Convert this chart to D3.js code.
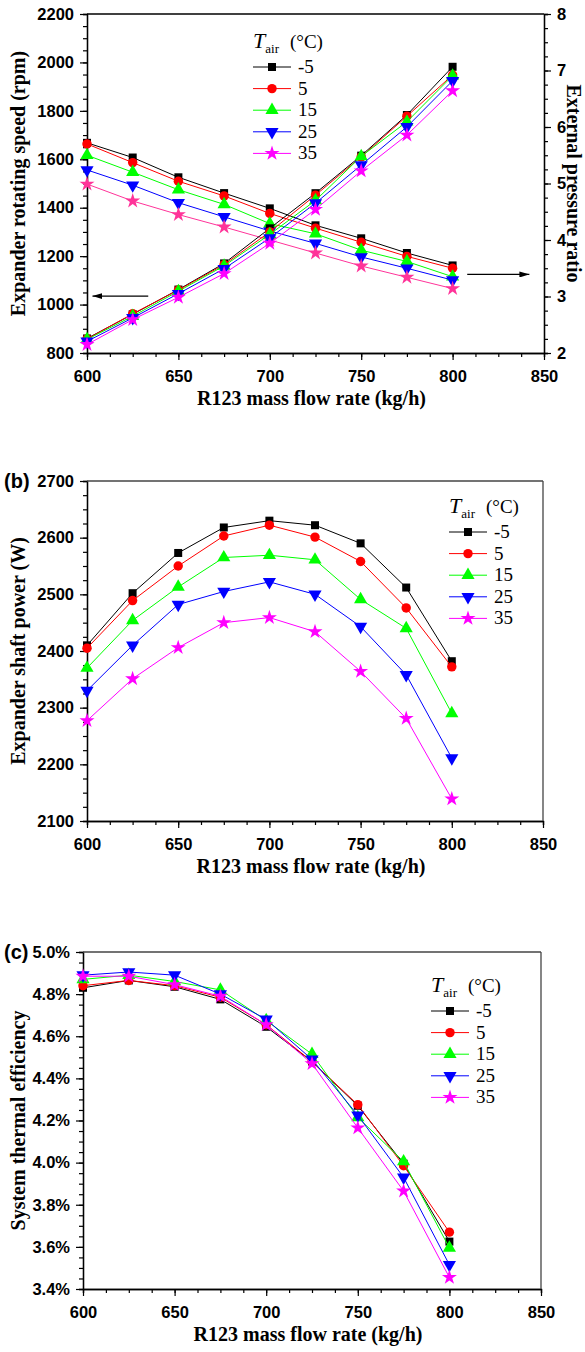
<!DOCTYPE html>
<html>
<head>
<meta charset="utf-8">
<script src="https://cdn.jsdelivr.net/npm/d3@7"></script>
<style>
  body { margin: 0; background: #fff; }
  .tick text { font-family: "Liberation Sans", Arial, sans-serif; font-weight: bold; font-size: 16.5px; fill: #000; }
  .title { font-family: "Liberation Serif", "Times New Roman", serif; font-weight: bold; font-size: 20px; fill: #000; }
  .leg { font-family: "Liberation Serif", "Times New Roman", serif; font-size: 19px; fill: #000; }
  .lab { font-family: "Liberation Sans", Arial, sans-serif; font-weight: bold; font-size: 20px; fill: #000; }
</style>
</head>
<body>
<div id="chart"></div>
<script>
// mass flow rate (kg/h)
const flow = [600, 625, 650, 675, 700, 725, 750, 775, 800];
const tairLabels = ["-5", "5", "15", "25", "35"];
const colors = ["#000000", "#ff0000", "#00ff00", "#0000ff", "#ff00ff"];
const xTicks = [600, 650, 700, 750, 800, 850];

// (a) expander rotating speed (rpm), left axis
const speed = [
  [860, 960, 1062, 1170, 1315, 1460, 1615, 1783, 1982],
  [858, 962, 1060, 1165, 1300, 1452, 1610, 1778, 1948],
  [856, 952, 1055, 1160, 1290, 1430, 1612, 1755, 1945],
  [848, 945, 1045, 1148, 1275, 1419, 1576, 1734, 1924],
  [835, 938, 1030, 1128, 1253, 1393, 1552, 1700, 1883]
];
// (a) external pressure ratio, right axis
const pressure = [
  [5.72, 5.46, 5.11, 4.83, 4.56, 4.26, 4.03, 3.77, 3.55],
  [5.70, 5.37, 5.04, 4.78, 4.47, 4.21, 3.96, 3.71, 3.50],
  [5.50, 5.20, 4.89, 4.63, 4.29, 4.11, 3.82, 3.62, 3.35],
  [5.24, 4.97, 4.66, 4.41, 4.16, 3.94, 3.70, 3.50, 3.29],
  [4.99, 4.69, 4.45, 4.23, 4.00, 3.77, 3.54, 3.34, 3.14]
];
// (b) expander shaft power (W)
const power = [
  [2410, 2502, 2573, 2618, 2630, 2622, 2590, 2512, 2382],
  [2405, 2489, 2550, 2603, 2622, 2601, 2558, 2476, 2372],
  [2370, 2454, 2513, 2565, 2569, 2561, 2491, 2440, 2290],
  [2330, 2410, 2482, 2505, 2522, 2500, 2443, 2358, 2211],
  [2277, 2351, 2406, 2450, 2459, 2434, 2364, 2281, 2139]
];
// (c) system thermal efficiency (%)
const efficiency = [
  [4.83, 4.865, 4.835, 4.775, 4.645, 4.48, 4.27, 3.995, 3.625],
  [4.84, 4.865, 4.84, 4.785, 4.655, 4.48, 4.275, 3.985, 3.67],
  [4.87, 4.89, 4.86, 4.82, 4.675, 4.515, 4.215, 4.005, 3.595],
  [4.89, 4.905, 4.89, 4.80, 4.68, 4.49, 4.225, 3.93, 3.515],
  [4.885, 4.885, 4.845, 4.79, 4.655, 4.47, 4.165, 3.865, 3.455]
];

const W = 585, H = 1352;
const svg = d3.select("#chart").append("svg")
    .attr("width", W).attr("height", H);

const symbols = [
  {type: d3.symbolSquare, size: 64, rot: 0},
  {type: d3.symbolCircle, size: 70, rot: 0},
  {type: d3.symbolTriangle, size: 75, rot: 0},
  {type: d3.symbolTriangle, size: 75, rot: 180},
  {type: d3.symbolStar, size: 70, rot: 0}
];

function marker(g, i, x, y, color) {
  g.append("path")
    .attr("d", d3.symbol().type(symbols[i].type).size(symbols[i].size)())
    .attr("transform", "translate(" + x + "," + y + ") rotate(" + symbols[i].rot + ")")
    .attr("fill", color);
}

function minorTicks(scale, step) {
  const d = scale.domain();
  const lo = Math.min(d[0], d[1]), hi = Math.max(d[0], d[1]);
  const out = [];
  for (let v = lo; v <= hi + 1e-9; v += step) out.push(+v.toFixed(6));
  return out;
}

function styleAxis(g) {
  g.selectAll("line").attr("stroke", "#000").attr("stroke-width", 1.2);
  g.selectAll("path.domain").attr("stroke", "#000").attr("stroke-width", 1.3);
}

// draws frame, axes and minor ticks for one panel
function drawFrame(p) {
  const g = svg.append("g");
  const x = p.x, y = p.y;
  // x minor
  g.append("g").attr("transform", "translate(0," + p.bottom + ")")
    .call(d3.axisBottom(x).tickValues(minorTicks(x, 12.5)).tickSize(4).tickFormat(""))
    .call(styleAxis);
  g.append("g").attr("transform", "translate(0," + p.bottom + ")")
    .call(d3.axisBottom(x).tickValues(xTicks).tickSize(7).tickSizeOuter(0).tickPadding(10))
    .call(styleAxis);
  // y minor + major
  g.append("g").attr("transform", "translate(" + p.left + ",0)")
    .call(d3.axisLeft(y).tickValues(minorTicks(y, p.yMinor)).tickSize(4).tickFormat(""))
    .call(styleAxis);
  g.append("g").attr("transform", "translate(" + p.left + ",0)")
    .call(d3.axisLeft(y).tickValues(p.yTicks).tickSize(7).tickSizeOuter(0).tickPadding(6)
      .tickFormat(p.yFormat || d3.format("d")))
    .call(styleAxis);
  // top border
  g.append("line").attr("x1", p.left).attr("x2", p.right)
    .attr("y1", p.top).attr("y2", p.top)
    .attr("stroke", p.frameColor).attr("stroke-width", 1.3);
  if (!p.y2) {
    g.append("line").attr("x1", p.right).attr("x2", p.right)
      .attr("y1", p.top).attr("y2", p.bottom)
      .attr("stroke", p.frameColor).attr("stroke-width", 1.3);
  }
  // x title
  g.append("text").attr("class", "title")
    .attr("x", (p.left + p.right) / 2 - 4).attr("y", p.bottom + 52)
    .attr("text-anchor", "middle").text("R123 mass flow rate (kg/h)");
  // y title
  g.append("text").attr("class", "title")
    .attr("transform", "translate(25," + (p.top + p.bottom) / 2 + ") rotate(-90)")
    .attr("text-anchor", "middle").text(p.yTitle);
  return g;
}

function drawSeries(g, x, y, values, i, lineColor) {
  const line = d3.line().x((d, k) => x(flow[k])).y(d => y(d));
  g.append("path").datum(values).attr("d", line)
    .attr("fill", "none").attr("stroke", lineColor).attr("stroke-width", 1);
  values.forEach((v, k) => marker(g, i, x(flow[k]), y(v), lineColor));
}

function drawLegend(g, lx, ly, dy) {
  const t = g.append("text").attr("class", "leg").attr("x", lx).attr("y", ly);
  t.append("tspan").attr("font-style", "italic").attr("font-size", "22px").text("T");
  t.append("tspan").attr("font-size", "13px").attr("dy", 5).text("air");
  g.append("text").attr("class", "leg").attr("x", lx + 37).attr("y", ly)
    .attr("font-family", "Liberation Sans, Arial, sans-serif").attr("font-size", "19px").text("(\u00B0C)");
  tairLabels.forEach((lab, i) => {
    const yy = ly + 19 + dy * i;
    g.append("line").attr("x1", lx).attr("x2", lx + 38).attr("y1", yy).attr("y2", yy)
      .attr("stroke", colors[i]).attr("stroke-width", 1);
    marker(g, i, lx + 19, yy, colors[i]);
    g.append("text").attr("class", "leg").attr("x", lx + 45).attr("y", yy + 6).text(lab);
  });
}

// ---------- panel (a) ----------
const pa = {left: 87, right: 544, top: 14, bottom: 353, frameColor: "#000", y2: true,
  yMinor: 50, yTicks: d3.range(800, 2201, 200), yTitle: "Expander rotating speed (rpm)"};
pa.x = d3.scaleLinear().domain([600, 850]).range([pa.left, pa.right]);
pa.y = d3.scaleLinear().domain([800, 2200]).range([pa.bottom, pa.top]);
const ga = drawFrame(pa);
const ya2 = d3.scaleLinear().domain([2, 8]).range([pa.bottom, pa.top]);
ga.append("g").attr("transform", "translate(" + pa.right + ",0)")
  .call(d3.axisRight(ya2).tickValues(minorTicks(ya2, 0.25)).tickSize(4).tickFormat(""))
  .call(styleAxis);
ga.append("g").attr("transform", "translate(" + pa.right + ",0)")
  .call(d3.axisRight(ya2).tickValues(d3.range(2, 9, 1)).tickSize(7).tickSizeOuter(0).tickPadding(6)
    .tickFormat(d3.format("d")))
  .call(styleAxis);
ga.append("text").attr("class", "title")
  .attr("transform", "translate(567," + (pa.top + pa.bottom) / 2 + ") rotate(90)")
  .attr("text-anchor", "middle").text("External pressure ratio");
const pressColors = ["#000000", "#ff0000", "#00ff00", "#0000ff", "#ff3399"];
pressure.forEach((s, i) => drawSeries(ga, pa.x, ya2, s, i, pressColors[i]));
speed.forEach((s, i) => drawSeries(ga, pa.x, pa.y, s, i, colors[i]));
drawLegend(ga, 253, 48, 21.6);
// arrows
svg.append("defs").append("marker").attr("id", "arr")
  .attr("viewBox", "0 0 10 6").attr("refX", 10).attr("refY", 3)
  .attr("markerWidth", 10).attr("markerHeight", 6).attr("markerUnits", "userSpaceOnUse")
  .attr("orient", "auto")
  .append("path").attr("d", "M0,0L10,3L0,6Z").attr("fill", "#000");
ga.append("line").attr("x1", pa.x(633.5)).attr("x2", pa.x(603)).attr("y1", pa.y(1035)).attr("y2", pa.y(1035))
  .attr("stroke", "#000").attr("stroke-width", 1.2).attr("marker-end", "url(#arr)");
ga.append("line").attr("x1", pa.x(808)).attr("x2", pa.x(842)).attr("y1", ya2(3.39)).attr("y2", ya2(3.39))
  .attr("stroke", "#000").attr("stroke-width", 1.2).attr("marker-end", "url(#arr)");

// ---------- panel (b) ----------
const pb = {left: 87, right: 543, top: 481, bottom: 821, frameColor: "#444",
  yMinor: 25, yTicks: d3.range(2100, 2701, 100), yTitle: "Expander shaft power (W)"};
pb.x = d3.scaleLinear().domain([600, 850]).range([pb.left, pb.right]);
pb.y = d3.scaleLinear().domain([2100, 2700]).range([pb.bottom, pb.top]);
const gb = drawFrame(pb);
power.forEach((s, i) => drawSeries(gb, pb.x, pb.y, s, i, colors[i]));
drawLegend(gb, 449, 513, 21.6);
gb.append("text").attr("class", "lab").attr("x", 4).attr("y", pb.top + 7).text("(b)");

// ---------- panel (c) ----------
const pc = {left: 83, right: 541, top: 952, bottom: 1289, frameColor: "#444",
  yMinor: 0.05, yTicks: d3.range(3.4, 5.01, 0.2).map(v => +v.toFixed(1)),
  yTitle: "System thermal efficiency", yFormat: d => d.toFixed(1) + "%"};
pc.x = d3.scaleLinear().domain([600, 850]).range([pc.left, pc.right]);
pc.y = d3.scaleLinear().domain([3.4, 5.0]).range([pc.bottom, pc.top]);
const gc = drawFrame(pc);
efficiency.forEach((s, i) => drawSeries(gc, pc.x, pc.y, s, i, colors[i]));
drawLegend(gc, 431, 992, 21.6);
gc.append("text").attr("class", "lab").attr("x", 4).attr("y", pc.top + 7).text("(c)");
</script>
</body>
</html>
